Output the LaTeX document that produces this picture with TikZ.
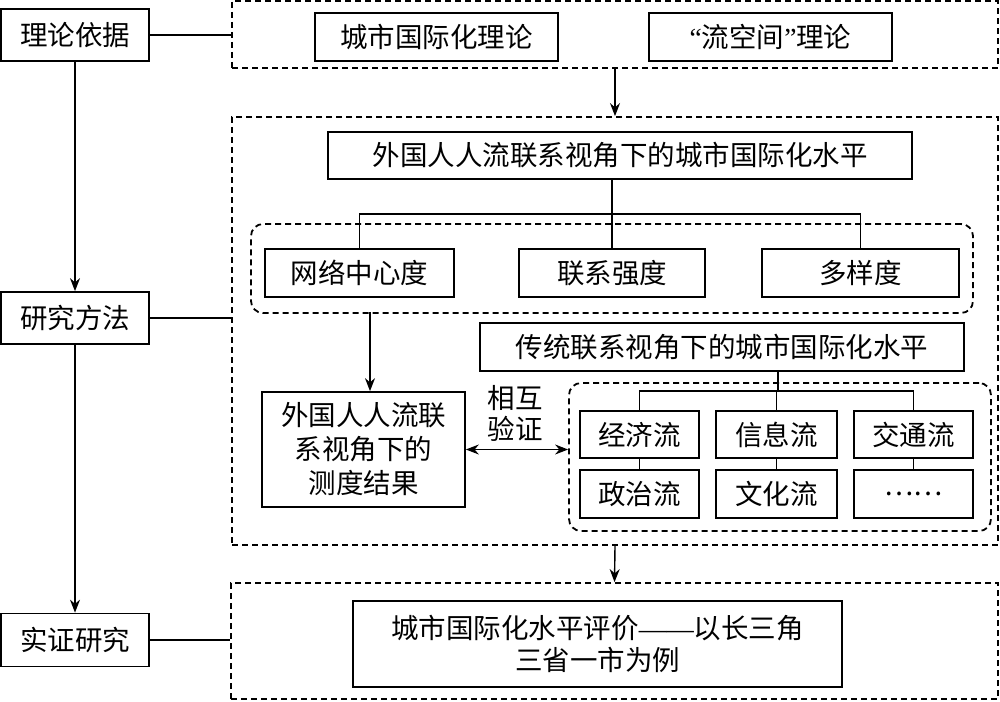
\documentclass[tikz,border=0pt]{standalone}
\usepackage{fontspec}
\newfontfamily\cjk{Noto Sans CJK SC}
\newfontfamily\lat{Liberation Serif}
\usetikzlibrary{arrows.meta}
\tikzset{
  txt/.style={font=\cjk\fontsize{27.5}{34}\selectfont, align=center},
  box/.style={txt, draw, line width=1.7pt, inner sep=0pt},
  dbox/.style={draw, line width=1.8pt, dash pattern=on 6pt off 4pt, inner sep=0pt},
  rdbox/.style={dbox, rounded corners=12pt},
  conn/.style={line width=1.4pt},
  arr/.style={conn, -{Stealth[length=13pt,width=10pt]}},
  darr/.style={conn, {Stealth[length=13pt,width=10pt]}-{Stealth[length=13pt,width=10pt]}}
}
\begin{document}
\begin{tikzpicture}[x=1pt,y=-1pt]
\useasboundingbox (0,0) rectangle (1000,701);
% left column
\node[box, minimum width=148pt, minimum height=52pt] (llyj) at (75,35) {理论依据};
\node[box, minimum width=148pt, minimum height=52pt] (yjff) at (75,318) {研究方法};
\node[box, minimum width=148pt, minimum height=53pt] (szyj) at (75,640) {实证研究};
% containers
\node[dbox, minimum width=766pt, minimum height=67pt] (top) at (615,34.5) {};
\node[dbox, minimum width=766pt, minimum height=428pt] (mid) at (615,331) {};
\node[dbox, minimum width=767pt, minimum height=116pt] (bot) at (614.5,641) {};
% top content
\node[box, minimum width=243pt, minimum height=48pt] (t1) at (436.5,37) {城市国际化理论};
\node[box, minimum width=243pt, minimum height=48pt] (t2) at (770.5,37) {{\lat “}流空间{\lat ”}理论};
% middle content
\node[box, minimum width=584pt, minimum height=47pt] (wg) at (620,155.5) {外国人人流联系视角下的城市国际化水平};
\node[rdbox, minimum width=722pt, minimum height=89pt] (r1) at (612,268.5) {};
\node[box, minimum width=189pt, minimum height=48pt] (c1) at (359.5,273) {网络中心度};
\node[box, minimum width=186pt, minimum height=48pt] (c2) at (612,273) {联系强度};
\node[box, minimum width=197pt, minimum height=48pt] (c3) at (860.5,273) {多样度};
\coordinate (j1) at (612,214);
\node[box, minimum width=203pt, minimum height=115pt, font=\cjk\fontsize{27.5}{34}\selectfont] (meas) at (363.5,449.5) {外国人人流联\\系视角下的\\测度结果};
\node[txt, font=\cjk\fontsize{27.5}{31}\selectfont] (hx) at (515,413) {相互\\验证};
\node[box, minimum width=484pt, minimum height=48pt] (ct) at (722,347) {传统联系视角下的城市国际化水平};
\node[rdbox, minimum width=422pt, minimum height=148pt] (r2) at (780,457) {};
\node[box, minimum width=119pt, minimum height=47pt] (f1) at (639.5,434.5) {经济流};
\node[box, minimum width=121pt, minimum height=47pt] (f2) at (776.5,434.5) {信息流};
\node[box, minimum width=119pt, minimum height=47pt] (f3) at (913.5,434.5) {交通流};
\node[box, minimum width=119pt, minimum height=48pt] (f4) at (639.5,494) {政治流};
\node[box, minimum width=121pt, minimum height=48pt] (f5) at (776.5,494) {文化流};
\node[box, minimum width=119pt, minimum height=48pt] (f6) at (913.5,494) {……};
\coordinate (j2) at (778,391);
% bottom content
\node[box, minimum width=489pt, minimum height=86pt, font=\cjk\fontsize{27.5}{32}\selectfont] (res) at (597.5,644) {城市国际化水平评价{\lat ——}以长三角\\三省一市为例};
% connectors
\draw[conn] (llyj.east) -- (llyj.east -| top.west);
\draw[conn] (yjff.east) -- (yjff.east -| mid.west);
\draw[conn] (szyj.east) -- (szyj.east -| bot.west);
\draw[arr] (llyj) -- (yjff);
\draw[arr] (yjff) -- (szyj);
\draw[arr] (top.south) -- (mid.north);
\draw[arr] (mid.south) -- (bot.north);
\draw[conn] (wg.south -| j1) -- (j1);
\draw[conn] (c1.north) -- (c1.north |- j1) -- (c3.north |- j1) -- (c3.north);
\draw[conn] (j1) -- (c2.north);
\draw[arr] (meas.north -| 370,0) ++(0,-79) -- (meas.north -| 370,0);
\draw[conn] (ct.south -| j2) -- (j2);
\draw[conn] (f1.north) -- (f1.north |- j2) -- (f3.north |- j2) -- (f3.north);
\draw[conn] (f2.north |- j2) -- (f2.north);
\draw[conn] (f1) -- (f4);
\draw[conn] (f2) -- (f5);
\draw[conn] (f3) -- (f6);
\draw[darr] (meas.east) -- (meas.east -| r2.west);
\end{tikzpicture}
\end{document}
